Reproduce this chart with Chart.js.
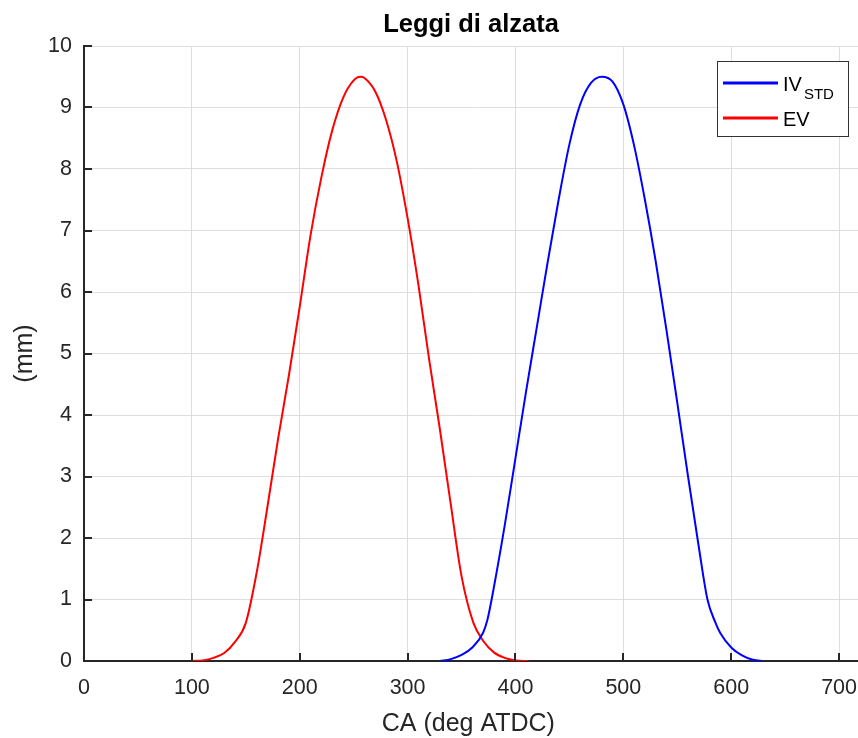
<html>
<head>
    <script src="https://cdn.jsdelivr.net/npm/chart.js@4.4.3/dist/chart.umd.min.js"></script>
    <style>
        body { margin: 0; overflow: hidden; background: #fff; }
    </style>
</head>
<body>
<canvas id="mychart" width="871" height="738"></canvas>
<script>
    // alzata valvola di scarico (EV) - angolo manovella / alzata in mm
    const evAngle = [100, 110, 120, 130, 140, 150, 160, 170, 180, 190, 200, 210, 220, 230, 240, 250, 256,
                     260, 270, 280, 290, 300, 310, 320, 330, 340, 350, 361, 370, 380, 390, 400, 412];
    const evLift  = [0, 0.01, 0.05, 0.13, 0.31, 0.62, 1.43, 2.5, 3.62, 4.65, 5.76, 6.92, 7.86, 8.62, 9.15, 9.44, 9.5,
                     9.48, 9.26, 8.8, 8.12, 7.2, 6.12, 4.9, 3.76, 2.55, 1.38, 0.62, 0.33, 0.14, 0.05, 0.01, 0];

    // alzata valvola di aspirazione (IV standard)
    const ivAngle = [330, 340, 350, 360, 370, 374, 380, 390, 400, 410, 420, 430, 440, 450, 460, 470, 480,
                     490, 500, 510, 520, 530, 540, 550, 560, 570, 578, 585, 590, 600, 610, 620, 630];
    const ivLift  = [0, 0.03, 0.1, 0.22, 0.46, 0.67, 1.2, 2.2, 3.3, 4.4, 5.45, 6.5, 7.5, 8.4, 9.05, 9.4, 9.5,
                     9.42, 9.05, 8.38, 7.5, 6.5, 5.38, 4.2, 3.0, 1.85, 1.0, 0.64, 0.45, 0.22, 0.09, 0.02, 0];

    const xTicks = [0, 100, 200, 300, 400, 500, 600, 700];
    const yTicks = [0, 1, 2, 3, 4, 5, 6, 7, 8, 9, 10];

    const titleText = "Leggi di alzata";
    const xLabel = "CA (deg ATDC)";
    const yLabel = "(mm)";
    const FONT = "'Liberation Sans', Arial, Helvetica, sans-serif";
    const AXIS_COLOR = '#262626';

    function toPoints(xs, ys) {
        return xs.map((x, i) => ({ x: x, y: ys[i] }));
    }

    // titolo, etichette assi, tacche interne e legenda in stile matlab
    const decor = {
        id: 'decor',
        beforeDraw(chart) {
            const ctx = chart.ctx;
            ctx.save();
            ctx.fillStyle = '#fff';
            ctx.fillRect(0, 0, chart.width, chart.height);
            ctx.restore();
        },
        afterDraw(chart) {
            const ctx = chart.ctx;
            const area = chart.chartArea;
            const xs = chart.scales.x, ys = chart.scales.y;
            const cx = (area.left + area.right) / 2;
            ctx.save();

            // tacche verso l'interno
            ctx.strokeStyle = AXIS_COLOR;
            ctx.lineWidth = 2;
            ctx.beginPath();
            xTicks.forEach(v => {
                const px = Math.round(xs.getPixelForValue(v));
                ctx.moveTo(px, area.bottom);
                ctx.lineTo(px, area.bottom - 8);
            });
            yTicks.forEach(v => {
                const py = Math.round(ys.getPixelForValue(v));
                ctx.moveTo(area.left, py);
                ctx.lineTo(area.left + 8, py);
            });
            ctx.stroke();

            // titolo
            ctx.fillStyle = '#000';
            ctx.font = "bold 25.5px " + FONT;
            ctx.textAlign = 'center';
            ctx.textBaseline = 'alphabetic';
            ctx.fillText(titleText, 471, 32);

            // etichette assi
            ctx.fillStyle = AXIS_COLOR;
            ctx.font = "25px " + FONT;
            ctx.fillText(xLabel, cx - 4, 731);
            ctx.save();
            ctx.translate(32, ys.getPixelForValue(5));
            ctx.rotate(-Math.PI / 2);
            ctx.fillText(yLabel, 0, 0);
            ctx.restore();

            // legenda
            const bx = 717, by = 61, bw = 131, bh = 75;
            ctx.fillStyle = '#fff';
            ctx.fillRect(bx, by, bw, bh);
            ctx.strokeStyle = '#333';
            ctx.lineWidth = 1;
            ctx.strokeRect(bx + 0.5, by + 0.5, bw, bh);

            const entries = [
                { color: '#0000ff', y: 83, main: 'IV', sub: 'STD' },
                { color: '#ff0000', y: 118, main: 'EV', sub: '' }
            ];
            entries.forEach(e => {
                ctx.strokeStyle = e.color;
                ctx.lineWidth = 3;
                ctx.beginPath();
                ctx.moveTo(723, e.y);
                ctx.lineTo(778, e.y);
                ctx.stroke();
                ctx.fillStyle = '#000';
                ctx.textAlign = 'left';
                ctx.font = "20px " + FONT;
                ctx.fillText(e.main, 783, e.y + 7.5);
                if (e.sub) {
                    const w = ctx.measureText(e.main).width;
                    ctx.font = "15px " + FONT;
                    ctx.fillText(e.sub, 783 + w + 2, e.y + 15.5);
                }
            });
            ctx.restore();
        }
    };

    const datainfo = {
        datasets: [
            {
                label: 'IV',
                data: toPoints(ivAngle, ivLift),
                borderColor: '#0000ff',
                borderWidth: 2,
                pointRadius: 0,
                cubicInterpolationMode: 'monotone'
            },
            {
                label: 'EV',
                data: toPoints(evAngle, evLift),
                borderColor: '#ff0000',
                borderWidth: 2,
                pointRadius: 0,
                cubicInterpolationMode: 'monotone'
            }
        ]
    };

    const config = {
        type: 'line',
        data: datainfo,
        plugins: [decor],
        options: {
            responsive: false,
            animation: false,
            layout: { padding: { top: 46, right: 0, left: 0, bottom: 0 } },
            plugins: {
                legend: { display: false },
                title: { display: false },
                tooltip: { enabled: false }
            },
            scales: {
                x: {
                    type: 'linear',
                    min: 0,
                    max: 720,
                    afterFit(scale) { scale.height = 77; },
                    grid: { color: '#dedede', lineWidth: 1, drawTicks: false },
                    border: { color: AXIS_COLOR, width: 2 },
                    ticks: {
                        stepSize: 100,
                        includeBounds: false,
                        padding: 14,
                        color: AXIS_COLOR,
                        font: { family: FONT, size: 21.5 }
                    }
                },
                y: {
                    min: 0,
                    max: 10,
                    afterFit(scale) { scale.width = 84; },
                    grid: { color: '#dedede', lineWidth: 1, drawTicks: false },
                    border: { color: AXIS_COLOR, width: 2 },
                    ticks: {
                        stepSize: 1,
                        padding: 12,
                        color: AXIS_COLOR,
                        font: { family: FONT, size: 21.5 }
                    }
                }
            }
        }
    };

    new Chart(document.getElementById('mychart'), config);
</script>
</body>
</html>
